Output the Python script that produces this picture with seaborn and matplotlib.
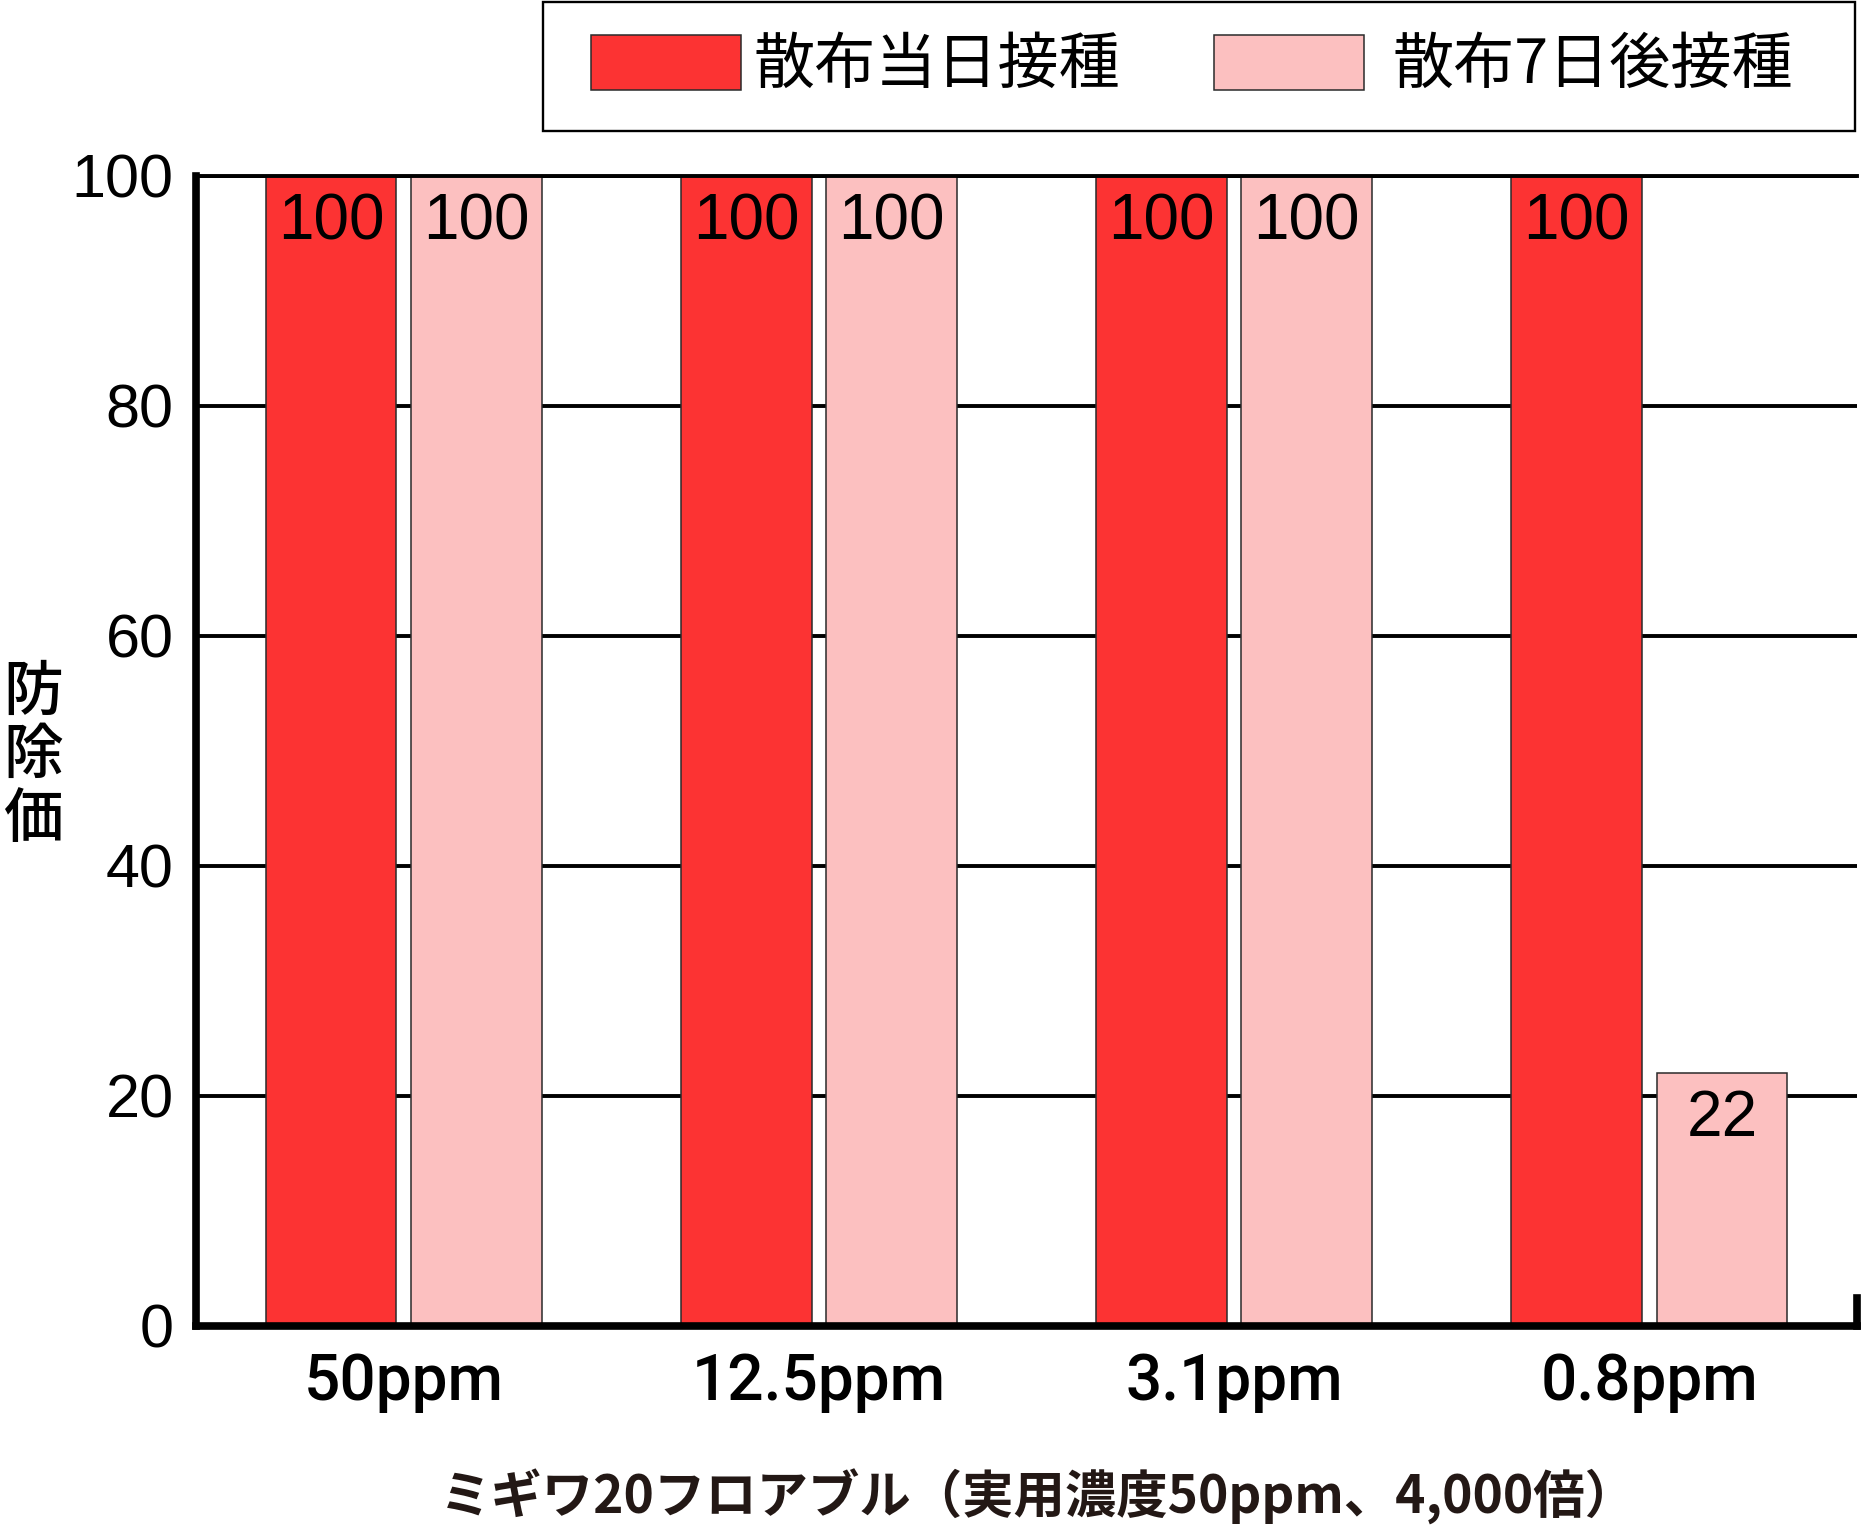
import matplotlib
matplotlib.use("Agg")
import matplotlib.pyplot as plt
from matplotlib.ticker import FixedLocator
from matplotlib.patches import Patch, Rectangle
import seaborn as sns
import pandas as pd

# ---- data ----
concentrations = ["50ppm", "12.5ppm", "3.1ppm", "0.8ppm"]
series_names = ["散布当日接種", "散布7日後接種"]
same_day = [100, 100, 100, 100]
after_7days = [100, 100, 100, 22]
y_ticks = [0, 20, 40, 60, 80, 100]
y_label = "防\n除\n価"
x_label = "ミギワ20フロアブル（実用濃度50ppm、4,000倍）"
colors = ["#FC3333", "#FCC0C0"]

df = pd.DataFrame({
    "conc": concentrations * 2,
    "value": same_day + after_7days,
    "timing": [series_names[0]] * 4 + [series_names[1]] * 4,
})

sns.set_style("white")
plt.rcParams["font.family"] = ["Liberation Sans", "Noto Sans CJK JP", "DejaVu Sans"]
plt.rcParams.update({"text.color": "black", "axes.labelcolor": "black",
                     "xtick.color": "black", "ytick.color": "black"})

W, H = 1864, 1537
fig = plt.figure(figsize=(W / 100, H / 100), dpi=100)
ax = fig.add_axes([196 / W, (H - 1326) / H, (1857 - 196) / W, (1326 - 176) / H])

sns.barplot(data=df, x="conc", y="value", hue="timing", order=concentrations,
            hue_order=series_names, palette=colors, width=0.7, gap=0.1,
            edgecolor="#2a2a2a", linewidth=1.1, saturation=1, ax=ax, legend=False)

ax.set_xlim(-0.5, 3.5)
ax.set_ylim(0, 100)
ax.set_yticks(y_ticks)
ax.set_axisbelow(True)
ax.yaxis.grid(True, color="black", linewidth=2.8)
ax.xaxis.grid(False)

for s in ["left", "bottom"]:
    ax.spines[s].set_linewidth(5.5)
    ax.spines[s].set_color("black")
ax.spines["top"].set_linewidth(2.8)
ax.spines["top"].set_color("black")
ax.spines["right"].set_color("black")
ax.spines["right"].set_linewidth(5.5)
ax.spines["right"].set_bounds(0, 2.4)

ax.tick_params(axis="y", length=0, pad=16, labelsize=44, labelcolor="black")
ax.tick_params(axis="x", which="major", length=0, pad=18, labelsize=46, labelcolor="black")
for lbl in ax.get_xticklabels():
    lbl.set_family(["Roboto", "Liberation Sans"])
    lbl.set_weight("medium")
ax.xaxis.set_minor_locator(FixedLocator([0.5, 1.5, 2.5]))
ax.tick_params(axis="x", which="minor", direction="in", length=18, width=2.2, color="black")

for cont in ax.containers:
    ax.bar_label(cont, labels=[f"{v:g}" for v in cont.datavalues],
                 padding=-55, fontsize=46, color="black")

ax.set_ylabel(y_label, rotation=0, fontsize=43, linespacing=1.05, color="black",
              family=["Noto Sans CJK JP"], weight="medium", ha="center", va="center")
ax.yaxis.set_label_coords(-0.098, 0.496)
ax.set_xlabel(x_label, fontsize=37, family=["Noto Sans CJK JP"], weight="bold",
              color="#231815", va="center")
ax.xaxis.set_label_coords(0.507, -0.149)

# legend: frame box plus one entry per series
fig.patches.append(Rectangle((543 / W, 1 - 131 / H), (1855 - 543) / W, 129 / H,
                             transform=fig.transFigure, facecolor="white",
                             edgecolor="black", linewidth=1.7, zorder=0))
entry_x = [591 / W, 1214 / W]
entry_pad = [0.21, 0.47]
for name, col, ex, tp in zip(series_names, colors, entry_x, entry_pad):
    fig.legend([Patch(facecolor=col, edgecolor="#2a2a2a", linewidth=1.1)], [name],
               loc="center left", bbox_to_anchor=(ex, 1 - 66 / H),
               prop={"family": ["Noto Sans CJK JP"], "size": 44},
               frameon=False, handlelength=2.45, handleheight=1.0,
               handletextpad=tp, borderpad=0, borderaxespad=0,
               labelcolor="black")

fig.savefig("out.png", dpi=100)
